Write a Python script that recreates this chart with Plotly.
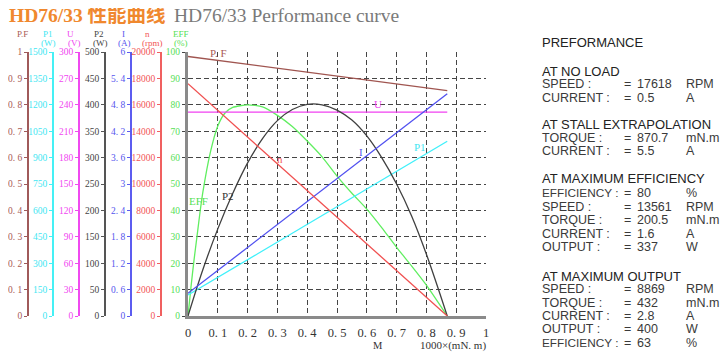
import plotly.graph_objects as go

# ---------------- data ----------------
torque_lin = [0.0, 0.87]                 # 1000 x mN.m
pf_vals = [0.983, 0.854]                 # power factor
n_vals = [17600, 0]                      # rpm
u_vals = [231.7, 231.7]                  # V
i_vals = [0.515, 5.05]                   # A
p1_vals = [119, 993]                     # W

p2_torque = [0.0, 0.05, 0.1, 0.15, 0.2, 0.25, 0.3, 0.35, 0.4, 0.45, 0.5,
             0.55, 0.6, 0.65, 0.7, 0.75, 0.8, 0.87]
p2_vals = [0, 88, 165, 232, 290, 336, 370, 391, 401, 400, 390,
           371, 341, 300, 250, 190, 117, 0]   # W

eff_torque = [0.0, 0.01, 0.02, 0.03, 0.04, 0.05, 0.075, 0.1, 0.125, 0.15, 0.2,
              0.25, 0.3, 0.35, 0.4, 0.45, 0.5, 0.55, 0.6, 0.65, 0.7, 0.75,
              0.8, 0.87]
eff_vals = [0, 11, 21, 30, 39, 47, 62, 72, 77, 79, 80,
            79.2, 76, 71.8, 66.3, 60.3, 53, 46.5, 40.5, 33.5, 26, 19,
            11.7, 0]                           # %

x_ticks = [0, 0.1, 0.2, 0.3, 0.4, 0.5, 0.6, 0.7, 0.8, 0.9, 1.0]
x_ticktext = ["0", "0. 1", "0. 2", "0. 3", "0. 4", "0. 5", "0. 6", "0. 7",
              "0. 8", "0. 9", "1"]

pf_ticks = [0, 0.1, 0.2, 0.3, 0.4, 0.5, 0.6, 0.7, 0.8, 0.9, 1.0]
pf_ticktext = ["0", "0. 1", "0. 2", "0. 3", "0. 4", "0. 5", "0. 6", "0. 7",
               "0. 8", "0. 9", "1"]
p1_ticks = [0, 150, 300, 450, 600, 750, 900, 1050, 1200, 1350, 1500]
u_ticks = [0, 30, 60, 90, 120, 150, 180, 210, 240, 270, 300]
p2_ticks = [0, 50, 100, 150, 200, 250, 300, 350, 400, 450, 500]
i_ticks = [0, 0.6, 1.2, 1.8, 2.4, 3, 3.6, 4.2, 4.8, 5.4, 6]
i_ticktext = ["0", "0. 6", "1. 2", "1. 8", "2. 4", "3", "3. 6", "4. 2",
              "4. 8", "5. 4", "6"]
n_ticks = [0, 2000, 4000, 6000, 8000, 10000, 12000, 14000, 16000, 18000, 20000]
eff_ticks = [0, 10, 20, 30, 40, 50, 60, 70, 80, 90, 100]

panel_headers = ["PREFORMANCE", "AT NO LOAD", "AT STALL EXTRAPOLATION",
                 "AT MAXIMUM EFFICIENCY", "AT MAXIMUM OUTPUT"]
row_labels = ["SPEED :", "CURRENT :", "TORQUE :", "CURRENT :",
              "EFFICIENCY :", "SPEED :", "TORQUE :", "CURRENT :", "OUTPUT :",
              "SPEED :", "TORQUE :", "CURRENT :", "OUTPUT :", "EFFICIENCY :"]
row_values = ["17618", "0.5", "870.7", "5.5",
              "80", "13561", "200.5", "1.6", "337",
              "8869", "432", "2.8", "400", "63"]
row_units = ["RPM", "A", "mN.m", "A",
             "%", "RPM", "mN.m", "A", "W",
             "RPM", "mN.m", "A", "W", "%"]

# ---------------- layout geometry ----------------
# page has an 8px body margin: figure is placed at (8, 8)
OFF = 8
W, H = 712, 344
ML, MR, MT, MB = 2, 234, 44, 36
PW = W - ML - MR   # 476
PH = H - MT - MB   # 264
PLOT_BOTTOM_PAGE = OFF + MT + PH  # 316


def xp(px):
    """page pixel x -> paper x"""
    return (px - OFF - ML) / PW


def yp(py):
    """page pixel y -> paper y"""
    return (PLOT_BOTTOM_PAGE - py) / PH


SERIF = "Liberation Serif, DejaVu Serif, serif"
SANS = "Liberation Sans, Arial, sans-serif"
GRID = "#454545"
DASH = "5px,3px"

C_PF, C_P1, C_U, C_P2, C_I, C_N, C_EFF = ("#a85a55", "#3fe6f2", "#f046f0",
                                         "#444444", "#5555ee", "#f25555",
                                         "#55e055")

fig = go.Figure()

fig.add_trace(go.Scatter(x=torque_lin, y=pf_vals, yaxis="y2", mode="lines",
                         line=dict(color="#a05550", width=1.3)))
fig.add_trace(go.Scatter(x=torque_lin, y=p1_vals, yaxis="y3", mode="lines",
                         line=dict(color="#40f0fa", width=1.3)))
fig.add_trace(go.Scatter(x=torque_lin, y=u_vals, yaxis="y4", mode="lines",
                         line=dict(color="#f040f0", width=1.3)))
fig.add_trace(go.Scatter(x=p2_torque, y=p2_vals, yaxis="y5", mode="lines",
                         line=dict(color="#404040", width=1.3, shape="spline")))
fig.add_trace(go.Scatter(x=torque_lin, y=i_vals, yaxis="y6", mode="lines",
                         line=dict(color="#5050f0", width=1.3)))
fig.add_trace(go.Scatter(x=torque_lin, y=n_vals, yaxis="y7", mode="lines",
                         line=dict(color="#f05050", width=1.3)))
fig.add_trace(go.Scatter(x=eff_torque, y=eff_vals, yaxis="y", mode="lines",
                         line=dict(color="#60ee60", width=1.3, shape="spline",
                                   smoothing=0.6)))


def side_axis(px, rng, tickvals, ticktext, color, lcolor):
    return dict(anchor="free", overlaying="y", side="left", position=xp(px),
                range=rng, tickvals=tickvals, ticktext=ticktext,
                showgrid=False, zeroline=False, showline=True,
                linecolor=lcolor, linewidth=1.5, ticks="outside", ticklen=3,
                tickcolor=lcolor, tickwidth=1,
                tickfont=dict(family=SERIF, size=9.5, color=color),
                automargin=False, fixedrange=True)


layout = dict(
    width=W, height=H, template="none",
    margin=dict(l=ML, r=MR, t=MT, b=MB, pad=0),
    paper_bgcolor="white", plot_bgcolor="white", showlegend=False,
    xaxis=dict(domain=[xp(188), 1], range=[0, 1], tickvals=x_ticks,
               ticktext=x_ticktext, showgrid=True, gridcolor=GRID,
               griddash=DASH, gridwidth=1, zeroline=False, showline=True,
               linecolor="#8a8a8a", linewidth=3, ticks="",
               ticklabelstandoff=3,
               tickfont=dict(family=SERIF, size=12.5, color="#333333"),
               automargin=False),
    yaxis=dict(range=[0, 100], tickvals=eff_ticks,
               ticktext=[str(v) for v in eff_ticks], showgrid=True,
               gridcolor=GRID, griddash=DASH, gridwidth=1, zeroline=False,
               showline=True, linecolor="#8a8a8a", linewidth=3,
               ticks="outside", ticklen=3, tickcolor="#444444",
               tickfont=dict(family=SERIF, size=9.5, color=C_EFF),
               automargin=False),
    yaxis2=side_axis(28, [0, 1], pf_ticks, pf_ticktext, C_PF, "#a05a5a"),
    yaxis3=side_axis(53, [0, 1500], p1_ticks, [str(v) for v in p1_ticks],
                     C_P1, "#45f0f5"),
    yaxis4=side_axis(79, [0, 300], u_ticks, [str(v) for v in u_ticks],
                     C_U, "#f04af0"),
    yaxis5=side_axis(105, [0, 500], p2_ticks, [str(v) for v in p2_ticks],
                     C_P2, "#555555"),
    yaxis6=side_axis(131, [0, 6], i_ticks, i_ticktext, C_I, "#5c5cf0"),
    yaxis7=side_axis(161, [0, 20000], n_ticks, [str(v) for v in n_ticks],
                     C_N, "#f06060"),
)
fig.update_layout(**layout)

ann = []


def txt(x, y, text, size, color, family=SERIF, xanchor="center",
        xref="paper", yref="paper"):
    ann.append(dict(x=x, y=y, xref=xref, yref=yref, text=text,
                    showarrow=False, xanchor=xanchor, yanchor="middle",
                    borderpad=0,
                    font=dict(family=family, size=size, color=color)))


# titles
txt(xp(8), yp(16), "<b>HD76/33 性能曲线</b>", 19.5, "#f0882e",
    family="Liberation Serif, Noto Sans CJK SC", xanchor="left")
txt(xp(173), yp(16), "HD76/33 Performance curve", 19.5, "#7a7a7a",
    xanchor="left")

# axis headers
headers = [("P.F", 22.5, None, 0, C_PF), ("P1", 47.5, "(W)", 48.5, C_P1),
           ("U", 71, "(V)", 74.5, C_U), ("P2", 98.5, "(W)", 100.5, C_P2),
           ("I", 123, "(A)", 124, C_I), ("n", 147, "(rpm)", 152, C_N),
           ("EFF", 181, "(%)", 181, C_EFF)]
for name, hx, unit, ux, col in headers:
    txt(xp(hx), yp(34), name, 9, col)
    if unit:
        txt(xp(ux), yp(43.5), unit, 9, col)

# curve labels (data coordinates on the EFF scale)
labels = [("P. F", 0.103, 99.8, C_PF), ("U", 0.638, 80.2, C_U),
          ("n", 0.308, 59.3, C_N), ("I", 0.58, 62.0, C_I),
          ("P1", 0.78, 64.2, C_P1), ("P2", 0.133, 45.5, "#333333"),
          ("EFF", 0.034, 43.7, C_EFF)]
for t, lx, ly, col in labels:
    txt(lx, ly, t, 11, col, xref="x", yref="y")

# x-axis title
txt(xp(378), yp(345), "M", 10.5, "#333333")
txt(xp(487), yp(345), "1000×(mN. m)", 11, "#333333", xanchor="right")

# performance panel
header_y = [43, 71, 124.5, 178, 276]
row_y = [84.5, 97.5, 137.5, 150.5, 193, 206.5, 220, 233.5, 247,
         289, 302.5, 316, 329, 342.5]
for h, hy in zip(panel_headers, header_y):
    txt(xp(541), yp(hy), h, 13, "#222222", family=SANS, xanchor="left")
for lab, val, unit, ry in zip(row_labels, row_values, row_units, row_y):
    lab_size = 11.8 if lab.startswith("EFFICIENCY") else 12.5
    txt(xp(541), yp(ry), lab, lab_size, "#3a3a3a", family=SANS,
        xanchor="left")
    txt(xp(627.5), yp(ry), "=", 12.5, "#3a3a3a", family=SANS)
    txt(xp(636), yp(ry), val, 12.5, "#3a3a3a", family=SANS, xanchor="left")
    txt(xp(685), yp(ry), unit, 12.5, "#3a3a3a", family=SANS, xanchor="left")

fig.update_layout(annotations=ann)
fig.write_html("out.html")
